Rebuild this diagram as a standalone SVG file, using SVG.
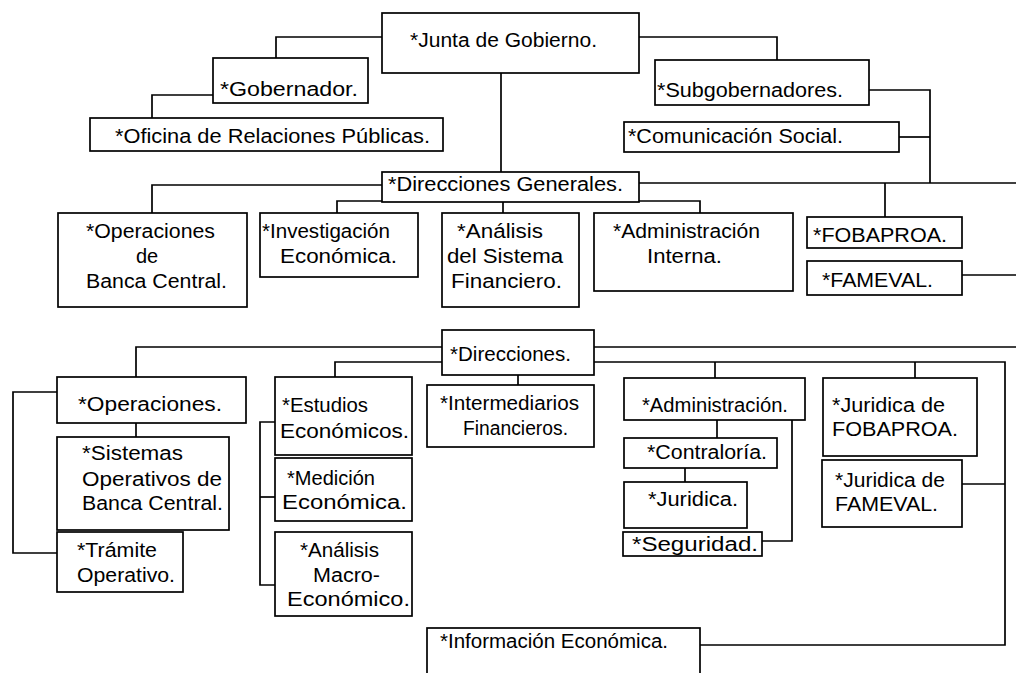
<svg xmlns="http://www.w3.org/2000/svg" width="1016" height="673" viewBox="0 0 1016 673">
<style>
.bg{fill:#fff}
.box{fill:#fff;stroke:#000;stroke-width:1.7}
.ln{fill:none;stroke:#000;stroke-width:1.7}
text{font-family:"Liberation Sans",Arial,sans-serif;font-size:20px;fill:#000}
</style>
<rect class="bg" x="0" y="0" width="1016" height="673"/>
<g id="connectors">
<polyline class="ln" points="382,37 276,37 276,58"/>
<polyline class="ln" points="213,95 152,95 152,118"/>
<polyline class="ln" points="639,37 777,37 777,60"/>
<polyline class="ln" points="869,90 930,90 930,183"/>
<polyline class="ln" points="899,137 930,137"/>
<polyline class="ln" points="501,73 501,172"/>
<polyline class="ln" points="382,185 152,185 152,213"/>
<polyline class="ln" points="639,183 1016,183"/>
<polyline class="ln" points="337,213 337,201 700,201 700,213"/>
<polyline class="ln" points="503,201 503,213"/>
<polyline class="ln" points="885,183 885,217"/>
<polyline class="ln" points="962,275 1016,275"/>
<polyline class="ln" points="442,347 136,347 136,377"/>
<polyline class="ln" points="594,347 1016,347"/>
<polyline class="ln" points="442,362 335,362 335,377"/>
<polyline class="ln" points="594,362 1005,362 1005,645 700,645"/>
<polyline class="ln" points="715,362 715,378"/>
<polyline class="ln" points="915,362 915,378"/>
<polyline class="ln" points="518,375 518,385"/>
<polyline class="ln" points="136,423 136,437"/>
<polyline class="ln" points="57,392 13,392 13,553 57,553"/>
<polyline class="ln" points="275,422 260,422 260,585 275,585"/>
<polyline class="ln" points="260,497 275,497"/>
<polyline class="ln" points="717,420 717,438"/>
<polyline class="ln" points="685,468 685,482"/>
<polyline class="ln" points="792,420 792,541 762,541"/>
<polyline class="ln" points="962,484 1005,484"/>
</g>
<g id="junta"><rect class="box" x="382" y="13" width="257" height="60"/><text x="410" y="47" textLength="187" lengthAdjust="spacingAndGlyphs">*Junta de Gobierno.</text></g>
<g id="gobernador"><rect class="box" x="213" y="58" width="155" height="45"/><text x="220" y="96" textLength="138" lengthAdjust="spacingAndGlyphs">*Gobernador.</text></g>
<g id="oficina"><rect class="box" x="90" y="118" width="353" height="33"/><text x="115" y="143" textLength="315" lengthAdjust="spacingAndGlyphs">*Oficina de Relaciones Públicas.</text></g>
<g id="subgobernadores"><rect class="box" x="655" y="60" width="214" height="45"/><text x="657" y="97" textLength="186" lengthAdjust="spacingAndGlyphs">*Subgobernadores.</text></g>
<g id="comunicacion"><rect class="box" x="624" y="122" width="275" height="30"/><text x="628" y="143" textLength="215" lengthAdjust="spacingAndGlyphs">*Comunicación Social.</text></g>
<g id="direcciones-generales"><rect class="box" x="382" y="172" width="257" height="30"/><text x="388" y="191" textLength="235" lengthAdjust="spacingAndGlyphs">*Direcciones Generales.</text></g>
<g id="op-banca-central"><rect class="box" x="58" y="213" width="189" height="94"/><text x="86" y="238" textLength="129" lengthAdjust="spacingAndGlyphs">*Operaciones</text><text x="147" y="263" text-anchor="middle">de</text><text x="86" y="288" textLength="141" lengthAdjust="spacingAndGlyphs">Banca Central.</text></g>
<g id="investigacion"><rect class="box" x="260" y="213" width="158" height="64"/><text x="262" y="238" textLength="128" lengthAdjust="spacingAndGlyphs">*Investigación</text><text x="280" y="263" textLength="117" lengthAdjust="spacingAndGlyphs">Económica.</text></g>
<g id="analisis-sf"><rect class="box" x="442" y="213" width="137" height="94"/><text x="457" y="238" textLength="86" lengthAdjust="spacingAndGlyphs">*Análisis</text><text x="447" y="263" textLength="116" lengthAdjust="spacingAndGlyphs">del Sistema</text><text x="451" y="288" textLength="111" lengthAdjust="spacingAndGlyphs">Financiero.</text></g>
<g id="admin-interna"><rect class="box" x="594" y="213" width="199" height="78"/><text x="613" y="238" textLength="147" lengthAdjust="spacingAndGlyphs">*Administración</text><text x="647" y="263" textLength="75" lengthAdjust="spacingAndGlyphs">Interna.</text></g>
<g id="fobaproa"><rect class="box" x="807" y="217" width="155" height="31"/><text x="813" y="242" textLength="134" lengthAdjust="spacingAndGlyphs">*FOBAPROA.</text></g>
<g id="fameval"><rect class="box" x="807" y="261" width="155" height="34"/><text x="822" y="287" textLength="111" lengthAdjust="spacingAndGlyphs">*FAMEVAL.</text></g>
<g id="direcciones"><rect class="box" x="442" y="330" width="152" height="45"/><text x="450" y="361" textLength="121" lengthAdjust="spacingAndGlyphs">*Direcciones.</text></g>
<g id="operaciones"><rect class="box" x="57" y="377" width="189" height="46"/><text x="78" y="411" textLength="144" lengthAdjust="spacingAndGlyphs">*Operaciones.</text></g>
<g id="sistemas"><rect class="box" x="57" y="437" width="172" height="93"/><text x="82" y="460" textLength="101" lengthAdjust="spacingAndGlyphs">*Sistemas</text><text x="82" y="486" textLength="140" lengthAdjust="spacingAndGlyphs">Operativos de</text><text x="82" y="510" textLength="141" lengthAdjust="spacingAndGlyphs">Banca Central.</text></g>
<g id="tramite"><rect class="box" x="57" y="532" width="126" height="60"/><text x="77" y="557" textLength="80" lengthAdjust="spacingAndGlyphs">*Trámite</text><text x="77" y="582" textLength="98" lengthAdjust="spacingAndGlyphs">Operativo.</text></g>
<g id="estudios"><rect class="box" x="275" y="377" width="137" height="78"/><text x="282" y="412" textLength="86" lengthAdjust="spacingAndGlyphs">*Estudios</text><text x="280" y="438" textLength="129" lengthAdjust="spacingAndGlyphs">Económicos.</text></g>
<g id="medicion"><rect class="box" x="275" y="458" width="137" height="63"/><text x="287" y="485" textLength="88" lengthAdjust="spacingAndGlyphs">*Medición</text><text x="282" y="509" textLength="125" lengthAdjust="spacingAndGlyphs">Económica.</text></g>
<g id="analisis-macro"><rect class="box" x="275" y="532" width="137" height="84"/><text x="300" y="557" textLength="79" lengthAdjust="spacingAndGlyphs">*Análisis</text><text x="313" y="582" textLength="67" lengthAdjust="spacingAndGlyphs">Macro-</text><text x="287" y="606" textLength="123" lengthAdjust="spacingAndGlyphs">Económico.</text></g>
<g id="intermediarios"><rect class="box" x="427" y="385" width="167" height="62"/><text x="440" y="410" textLength="139" lengthAdjust="spacingAndGlyphs">*Intermediarios</text><text x="463" y="435" textLength="105" lengthAdjust="spacingAndGlyphs">Financieros.</text></g>
<g id="administracion"><rect class="box" x="624" y="378" width="181" height="42"/><text x="642" y="412" textLength="146" lengthAdjust="spacingAndGlyphs">*Administración.</text></g>
<g id="contraloria"><rect class="box" x="624" y="438" width="153" height="30"/><text x="647" y="459" textLength="120" lengthAdjust="spacingAndGlyphs">*Contraloría.</text></g>
<g id="juridica"><rect class="box" x="624" y="482" width="123" height="46"/><text x="648" y="506" textLength="90" lengthAdjust="spacingAndGlyphs">*Juridica.</text></g>
<g id="seguridad"><rect class="box" x="623" y="532" width="139" height="24"/><text x="632" y="551" textLength="126" lengthAdjust="spacingAndGlyphs">*Seguridad.</text></g>
<g id="juridica-fobaproa"><rect class="box" x="823" y="378" width="154" height="78"/><text x="832" y="412" textLength="113" lengthAdjust="spacingAndGlyphs">*Juridica de</text><text x="832" y="436" textLength="126" lengthAdjust="spacingAndGlyphs">FOBAPROA.</text></g>
<g id="juridica-fameval"><rect class="box" x="822" y="460" width="140" height="67"/><text x="835" y="487" textLength="110" lengthAdjust="spacingAndGlyphs">*Juridica de</text><text x="835" y="511" textLength="103" lengthAdjust="spacingAndGlyphs">FAMEVAL.</text></g>
<g id="informacion"><rect class="box" x="427" y="628" width="273" height="60"/><text x="440" y="648" textLength="228" lengthAdjust="spacingAndGlyphs">*Información Económica.</text></g>
</svg>
